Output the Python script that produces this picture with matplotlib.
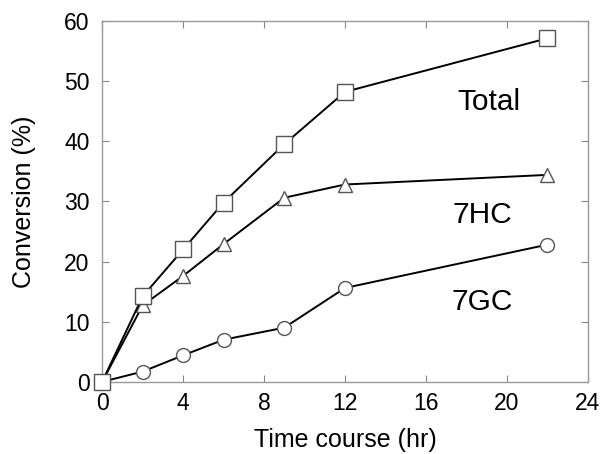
import matplotlib
matplotlib.use("Agg")
import matplotlib.pyplot as plt

time_hr = [0, 2, 4, 6, 9, 12, 22]
total = [0, 14.2, 22.0, 29.8, 39.5, 48.2, 57.1]
hc7 = [0, 12.7, 17.6, 22.9, 30.6, 32.8, 34.4]
gc7 = [0, 1.7, 4.4, 7.0, 9.0, 15.6, 22.8]
labels = ["Total", "7HC", "7GC"]
label_pos = [(19.1, 46.5), (18.8, 27.8), (18.8, 13.3)]

plt.rcParams['font.family'] = ['Liberation Sans', 'DejaVu Sans']

fig = plt.figure(figsize=(6.01, 4.54), dpi=100)
ax = fig.add_axes([0.170, 0.159, 0.808, 0.795])

mk = dict(markerfacecolor='white', markeredgecolor='#555555', markeredgewidth=1.0,
          color='black', linewidth=1.4, clip_on=False, zorder=3)
ax.plot(time_hr, gc7, marker='o', markersize=10, **mk)
ax.plot(time_hr, hc7, marker='^', markersize=10.5, **mk)
ax.plot(time_hr, total, marker='s', markersize=11, **mk)

for t, (x, y) in zip(labels, label_pos):
    ax.text(x, y, t, fontsize=21.5, ha='center', va='center')

ax.set_xlim(0, 24)
ax.set_ylim(0, 60)
ax.set_xticks(range(0, 25, 4))
ax.set_yticks(range(0, 61, 10))
ax.tick_params(direction='in', top=True, right=True, length=5, color='#888888',
               labelsize=16.5)
ax.tick_params(axis='x', pad=7)
ax.tick_params(axis='y', pad=9)
for s in ax.spines.values():
    s.set_color('#999999')
    s.set_linewidth(1.0)
ax.set_xlabel("Time course (hr)", fontsize=18, labelpad=10)
ax.set_ylabel("Conversion (%)", fontsize=18, labelpad=20)

fig.savefig("out.png", dpi=100)
